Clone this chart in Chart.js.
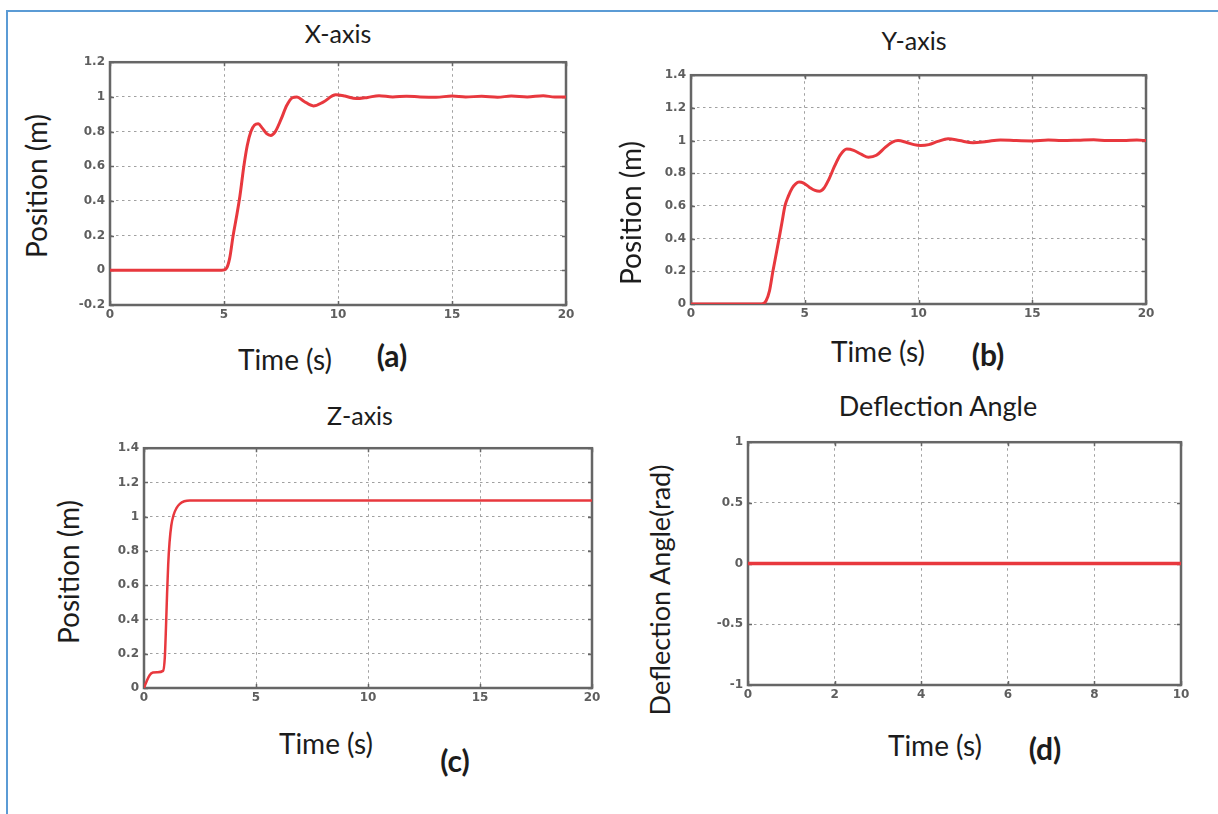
<!DOCTYPE html>
<html>
<head>
<meta charset="utf-8">
<title>Position and deflection responses</title>
<script src="https://cdn.jsdelivr.net/npm/chart.js@4.4.1/dist/chart.umd.min.js"></script>
<style>
  html, body { margin: 0; padding: 0; background: #fff; }
  body { width: 1218px; height: 814px; position: relative; overflow: hidden;
         font-family: Lato, "Open Sans", sans-serif; color: #1c1c1c; }
  .frame-top  { position: absolute; left: 6px; top: 10px; width: 1212px; height: 2px; background: #5b9bd5; }
  .frame-left { position: absolute; left: 6px; top: 10px; width: 2px; height: 804px; background: #5b9bd5; }
  .txt  { position: absolute; white-space: nowrap; line-height: 1; transform: translate(-50%, -50%); }
  .ttl  { font-size: 25px; }
  .ttl-big { font-size: 27px; }
  .ylab { font-size: 28px; transform: translate(-50%, -50%) rotate(-90deg); }
  .ylab-long { font-size: 27px; }
  .xlab { font-size: 28px; }
  .tag  { font-size: 30px; font-weight: bold; }
  canvas { position: absolute; }
</style>
</head>
<body>
<div class="frame-top"></div>
<div class="frame-left"></div>

<canvas id="panelA"></canvas>
<canvas id="panelB"></canvas>
<canvas id="panelC"></canvas>
<canvas id="panelD"></canvas>

<div class="txt ttl"  style="left:338px;top:33px">X-axis</div>
<div class="txt ylab" style="left:36px;top:186px">Position (m)</div>
<div class="txt xlab" style="left:285px;top:359px">Time (s)</div>
<div class="txt tag"  style="left:392px;top:355px">(a)</div>

<div class="txt ttl"  style="left:914px;top:40px">Y-axis</div>
<div class="txt ylab" style="left:630px;top:213px">Position (m)</div>
<div class="txt xlab" style="left:878px;top:351px">Time (s)</div>
<div class="txt tag"  style="left:988px;top:354px">(b)</div>

<div class="txt ttl"  style="left:360px;top:415px">Z-axis</div>
<div class="txt ylab" style="left:68px;top:572px">Position (m)</div>
<div class="txt xlab" style="left:326px;top:743px">Time (s)</div>
<div class="txt tag"  style="left:455px;top:760px">(c)</div>

<div class="txt ttl ttl-big" style="left:938px;top:405px">Deflection Angle</div>
<div class="txt ylab ylab-long" style="left:659px;top:590px">Deflection Angle(rad)</div>
<div class="txt xlab" style="left:935px;top:745px">Time (s)</div>
<div class="txt tag"  style="left:1045px;top:748px">(d)</div>

<script>
// ---- X-axis position response ----
const timeX = [0, 4.9, 5.1, 5.25, 5.4, 5.55, 5.7, 5.87, 6.02, 6.18, 6.34, 6.5, 6.68, 6.87, 7.05, 7.25, 7.5, 7.75, 8.0, 8.2, 8.5, 8.92, 9.35, 9.9, 10.3, 10.8, 11.3, 11.8, 12.4, 13.0, 13.6, 14.3, 15.0, 15.6, 16.3, 17.0, 17.6, 18.3, 19.0, 19.5, 20];
const posX  = [0, 0, 0.01, 0.07, 0.2, 0.31, 0.43, 0.6, 0.72, 0.8, 0.838, 0.845, 0.82, 0.788, 0.778, 0.8, 0.87, 0.95, 0.995, 1.0, 0.975, 0.948, 0.97, 1.012, 1.005, 0.99, 0.997, 1.007, 1.0, 1.004, 1.0, 0.998, 1.005, 1.0, 1.003, 0.998, 1.005, 1.0, 1.006, 1.0, 1.0];

// ---- Y-axis position response ----
const timeY = [0, 3.1, 3.3, 3.45, 3.6, 3.75, 3.87, 4.0, 4.13, 4.28, 4.45, 4.6, 4.75, 4.95, 5.2, 5.45, 5.65, 5.85, 6.05, 6.3, 6.55, 6.85, 7.15, 7.5, 7.8, 8.15, 8.55, 8.85, 9.1, 9.45, 9.8, 10.1, 10.45, 10.85, 11.3, 11.8, 12.4, 13.0, 13.6, 14.3, 15.0, 15.7, 16.3, 17.0, 17.7, 18.3, 19.0, 19.6, 20];
const posY  = [0, 0, 0.02, 0.08, 0.2, 0.31, 0.4, 0.5, 0.6, 0.66, 0.71, 0.735, 0.746, 0.74, 0.715, 0.695, 0.69, 0.71, 0.76, 0.84, 0.91, 0.948, 0.94, 0.915, 0.898, 0.91, 0.96, 0.99, 1.0, 0.99, 0.975, 0.97, 0.975, 0.995, 1.011, 1.0, 0.987, 0.995, 1.004, 1.0, 0.998, 1.004, 1.0, 1.002, 1.005, 1.0, 1.0, 1.003, 1.0];

// ---- Z-axis position response ----
const timeZ = [0, 0.12, 0.25, 0.4, 0.6, 0.85, 0.93, 0.98, 1.03, 1.08, 1.14, 1.22, 1.32, 1.45, 1.6, 1.8, 2.05, 2.5, 5, 10, 15, 20];
const posZ  = [0, 0.04, 0.075, 0.09, 0.092, 0.1, 0.18, 0.35, 0.55, 0.72, 0.85, 0.95, 1.01, 1.05, 1.075, 1.09, 1.095, 1.095, 1.095, 1.095, 1.095, 1.095];

// ---- Deflection angle ----
const timeAngle = [0, 10];
const angle     = [0, 0];

// ---- Tick values ----
const timeTicks20  = [0, 5, 10, 15, 20];
const timeTicks10  = [0, 2, 4, 6, 8, 10];
const ticksPosX    = [-0.2, 0, 0.2, 0.4, 0.6, 0.8, 1, 1.2];
const ticksPosYZ   = [0, 0.2, 0.4, 0.6, 0.8, 1, 1.2, 1.4];
const ticksAngle   = [-1, -0.5, 0, 0.5, 1];

const RED = '#e8383e';
const MARGIN = { l: 46, t: 12, r: 18, b: 26 };

// Axes box with short inward tick marks on all four sides
const boxPlugin = {
  id: 'axesBox',
  beforeDatasetsDraw(chart) {
    const { ctx, chartArea: a, scales } = chart;
    ctx.save();
    ctx.strokeStyle = '#666';
    ctx.lineWidth = 1.5;
    ctx.beginPath();
    scales.x.ticks.forEach(t => {
      const x = Math.round(scales.x.getPixelForValue(t.value)) + 0.5;
      ctx.moveTo(x, a.bottom); ctx.lineTo(x, a.bottom - 4);
      ctx.moveTo(x, a.top);    ctx.lineTo(x, a.top + 4);
    });
    scales.y.ticks.forEach(t => {
      const y = Math.round(scales.y.getPixelForValue(t.value)) + 0.5;
      ctx.moveTo(a.left, y);  ctx.lineTo(a.left + 4, y);
      ctx.moveTo(a.right, y); ctx.lineTo(a.right - 4, y);
    });
    ctx.stroke();
    ctx.lineWidth = 2.5;
    ctx.strokeRect(a.left, a.top, a.right - a.left, a.bottom - a.top);
    ctx.restore();
  }
};

const fmt = v => String(+Number(v).toFixed(2));

function makePanel(id, rect, times, values, xTicks, yTicks, width) {
  const c = document.getElementById(id);
  const w = rect.R - rect.L + MARGIN.l + MARGIN.r;
  const h = rect.B - rect.T + MARGIN.t + MARGIN.b;
  c.width = w; c.height = h;
  c.style.width = w + 'px'; c.style.height = h + 'px';
  c.style.left = (rect.L - MARGIN.l) + 'px';
  c.style.top = (rect.T - MARGIN.t) + 'px';

  const tickFont = { family: '"DejaVu Sans", sans-serif', size: 12, weight: 'bold' };
  const grid = { color: '#a0a0a0', lineWidth: 1, drawTicks: false };
  const border = { display: false, dash: [2.5, 3.5] };

  new Chart(c, {
    type: 'line',
    data: {
      datasets: [{
        data: times.map((t, i) => ({ x: t, y: values[i] })),
        borderColor: RED,
        borderWidth: width,
        pointRadius: 0,
        cubicInterpolationMode: 'monotone',
        fill: false
      }]
    },
    options: {
      responsive: false,
      animation: false,
      devicePixelRatio: 1,
      layout: { padding: { top: MARGIN.t, right: MARGIN.r, left: 0, bottom: 0 } },
      plugins: { legend: { display: false }, tooltip: { enabled: false } },
      scales: {
        x: {
          type: 'linear',
          min: xTicks[0], max: xTicks[xTicks.length - 1],
          afterBuildTicks: s => { s.ticks = xTicks.map(value => ({ value })); },
          afterFit: s => { s.height = MARGIN.b; },
          grid, border,
          ticks: { autoSkip: false, maxRotation: 0, padding: 3, color: '#5e5e5e', font: tickFont, callback: fmt }
        },
        y: {
          type: 'linear',
          min: yTicks[0], max: yTicks[yTicks.length - 1],
          afterBuildTicks: s => { s.ticks = yTicks.map(value => ({ value })); },
          afterFit: s => { s.width = MARGIN.l; },
          grid, border,
          ticks: { autoSkip: false, padding: 5, color: '#5e5e5e', font: tickFont, callback: fmt }
        }
      }
    },
    plugins: [boxPlugin]
  });
}

makePanel('panelA', { L: 110, T: 62,  R: 566,  B: 305 }, timeX, posX, timeTicks20, ticksPosX, 3);
makePanel('panelB', { L: 691, T: 75,  R: 1146, B: 304 }, timeY, posY, timeTicks20, ticksPosYZ, 3);
makePanel('panelC', { L: 144, T: 448, R: 592,  B: 688 }, timeZ, posZ, timeTicks20, ticksPosYZ, 2.5);
makePanel('panelD', { L: 748, T: 442, R: 1181, B: 685 }, timeAngle, angle, timeTicks10, ticksAngle, 3.5);
</script>
</body>
</html>
